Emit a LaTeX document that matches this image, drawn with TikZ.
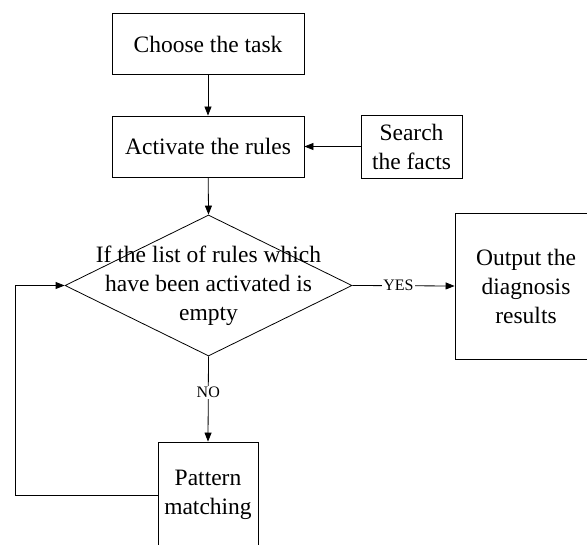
\documentclass[tikz,border=0pt]{standalone}
\usepackage{fontspec}
\setmainfont{Liberation Serif}
\usetikzlibrary{arrows.meta,shapes.geometric}
\begin{document}
\begin{tikzpicture}[x=1pt,y=-1pt,
  box/.style={draw,line width=0.8pt,rectangle,inner sep=0pt,align=center,
    font=\fontsize{23.5}{29}\selectfont},
  arr/.style={line width=0.8pt,-{Triangle[length=9pt,width=7pt]}},
  lbl/.style={fill=white,inner sep=1pt,font=\fontsize{16}{18}\selectfont}]
\clip (0,0) rectangle (587,545);
\fill[white] (0,0) rectangle (587,545);
\node[box,minimum width=192pt,minimum height=61pt] (choose) at (208,44) {Choose the task};
\node[box,minimum width=192pt,minimum height=61pt] (activate) at (208,146.5) {Activate the rules};
\node[box,minimum width=101pt,minimum height=63pt] (search) at (411.5,146.5) {Search\\the facts};
\node[draw,line width=0.8pt,shape=diamond,minimum width=287pt,minimum height=141pt,inner sep=0pt] (d) at (208.5,285.5) {};
\node[align=center,font=\fontsize{23.5}{29}\selectfont] (dtext) at (208.5,286) {If the list of rules which\\have been activated is\\empty};
\node[box,minimum width=142pt,minimum height=146pt] (output) at (526,286) {Output the\\diagnosis\\results};
\node[box,minimum width=100pt,minimum height=106pt] (pattern) at (208,495) {Pattern\\matching};
\coordinate (lc) at (15,495);
\draw[arr] (choose) -- (activate);
\draw[arr] (search) -- (activate);
\draw[arr] (activate) -- (d.north);
\draw[arr] (d.east) -- node[lbl,pos=0.45] (yes) {YES} (output.west);
\draw[arr] (d.south) -- node[lbl,pos=0.42] (no) {NO} (pattern.north);
\draw[arr] (pattern.west) -- (lc) |- (d.west);
\end{tikzpicture}
\end{document}
